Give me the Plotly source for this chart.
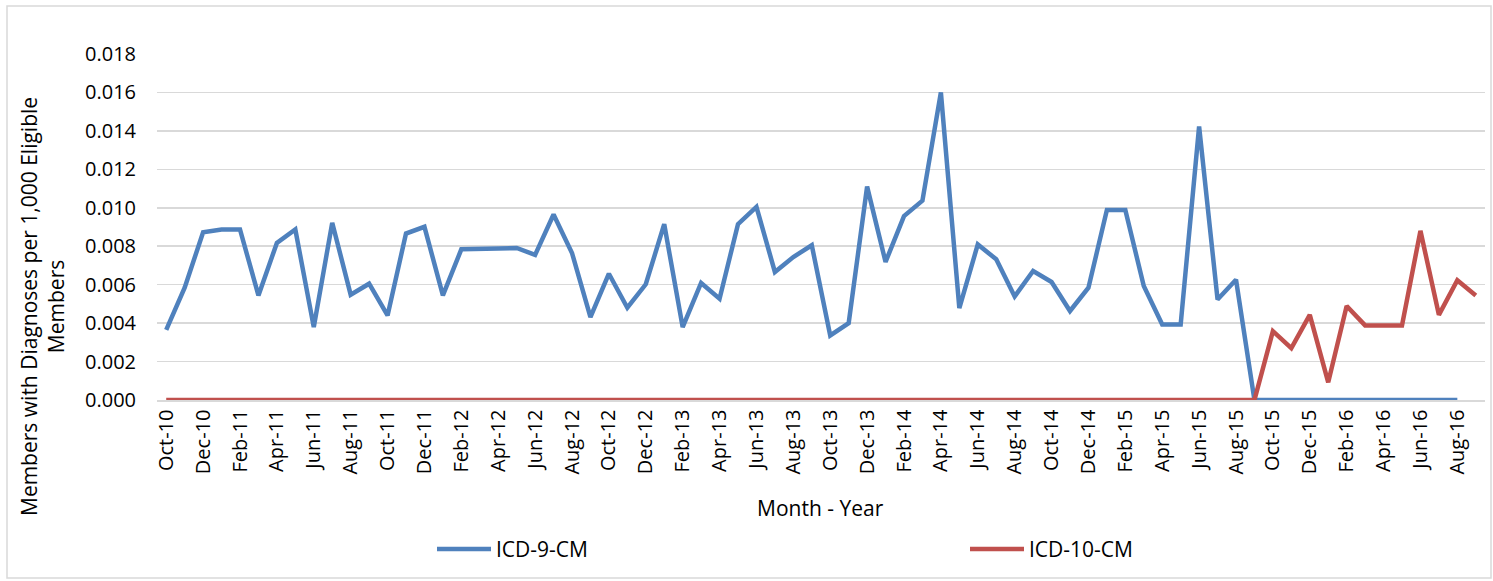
import plotly.graph_objects as go

months = []
mnames = ["Jan", "Feb", "Mar", "Apr", "May", "Jun", "Jul", "Aug", "Sep", "Oct", "Nov", "Dec"]
for y in range(10, 17):
    for m in range(12):
        if (y == 10 and m < 9) or (y == 16 and m > 8):
            continue
        months.append(f"{mnames[m]}-{y}")

icd9 = [0.00365, 0.00584, 0.00873, 0.00887, 0.00887, 0.00544, 0.00817, 0.00887,
        0.00379, 0.00922, 0.00548, 0.00605, 0.00440, 0.00866, 0.00901, 0.00544,
        0.00784, 0.00784, 0.00788, 0.00791, 0.00755, 0.00965, 0.00765, 0.00431,
        0.00657, 0.00480, 0.00602, 0.00915, 0.00379, 0.00609, 0.00527, 0.00915,
        0.01005, 0.00666, 0.00744, 0.00805, 0.00336, 0.00400, 0.01110, 0.00718,
        0.00957, 0.01037, 0.01600, 0.00478, 0.00809, 0.00732, 0.00539, 0.00671,
        0.00614, 0.00463, 0.00584, 0.00988, 0.00988, 0.00593, 0.00393, 0.00393,
        0.01423, 0.00523, 0.00626, 0.0, 0.0, 0.0, 0.0, 0.0, 0.0, 0.0, 0.0, 0.0,
        0.0, 0.0, 0.0, None]

icd10 = [0.0] * 60 + [0.00358, 0.00270, 0.00443, 0.00092, 0.00489, 0.00388,
                      0.00388, 0.00388, 0.00880, 0.00443, 0.00623, 0.00544]

series_names = ["ICD-9-CM", "ICD-10-CM"]
series_colors = ["#4f81bd", "#c0504d"]

tick_labels = months[::2]

W, H = 1493, 581
L, R, T, B = 157, 8, 54, 181
pw, ph = W - L - R, H - T - B

def px_x(p):
    return (p - L) / pw

def px_y(p):
    return (H - B - p) / ph

TXT_FONT = dict(family="Open Sans", size=21, color="#000000")

fig = go.Figure()
for name, vals, col in zip(series_names, [icd9, icd10], series_colors):
    fig.add_trace(go.Scatter(x=months, y=vals, mode="lines", name=name,
                             line=dict(color=col, width=4.5), hoverinfo="skip"))

shapes = [dict(type="rect", xref="paper", yref="paper",
               x0=px_x(7), x1=px_x(1491), y0=px_y(578), y1=px_y(6),
               line=dict(color="#d9d9d9", width=1.5), fillcolor="rgba(0,0,0,0)",
               layer="below")]
annotations = [
    dict(text="Members with Diagnoses per 1,000 Eligible<br>Members",
         xref="paper", yref="paper", x=px_x(42), y=px_y(307),
         xanchor="center", yanchor="middle", textangle=-90, showarrow=False,
         font=TXT_FONT),
    dict(text="Month - Year", xref="paper", yref="paper", x=px_x(820), y=px_y(508),
         xanchor="center", yanchor="middle", showarrow=False, font=TXT_FONT),
]
# manual legend
leg_x = [437, 970]
for name, col, lx in zip(series_names, series_colors, leg_x):
    shapes.append(dict(type="line", xref="paper", yref="paper",
                       x0=px_x(lx), x1=px_x(lx + 54), y0=px_y(549), y1=px_y(549),
                       line=dict(color=col, width=4.5)))
    annotations.append(dict(text=name, xref="paper", yref="paper",
                            x=px_x(lx + 57), y=px_y(549), xanchor="left",
                            yanchor="middle", showarrow=False, font=TXT_FONT))

fig.update_layout(
    width=W, height=H,
    margin=dict(l=L, r=R, t=T, b=B, autoexpand=False),
    paper_bgcolor="white", plot_bgcolor="white",
    font=dict(family="Open Sans", color="#000000"),
    showlegend=False,
    xaxis=dict(type="category", categoryorder="array", categoryarray=months,
               range=[-0.5, len(months) - 0.5],
               tickmode="array", tickvals=tick_labels, ticktext=tick_labels,
               tickangle=-90, tickfont=dict(size=20, family="Open Sans", color="#000000"),
               showgrid=False, showline=True, linecolor="#d9d9d9", linewidth=1.5,
               ticks="", fixedrange=True, automargin=False),
    yaxis=dict(range=[0, 0.018], tickmode="linear", tick0=0, dtick=0.002,
               tickformat=".3f", tickfont=dict(size=20, family="Open Sans", color="#000000"),
               showgrid=True, gridcolor="#d9d9d9", gridwidth=1.5,
               zeroline=False, showline=False, ticks="", ticklabelstandoff=20,
               automargin=False, fixedrange=True),
    shapes=shapes,
    annotations=annotations,
)

fig.write_html("out.html", config={"displayModeBar": False, "staticPlot": True},
               post_script="document.body.style.margin='0';document.body.style.overflow='hidden';")
